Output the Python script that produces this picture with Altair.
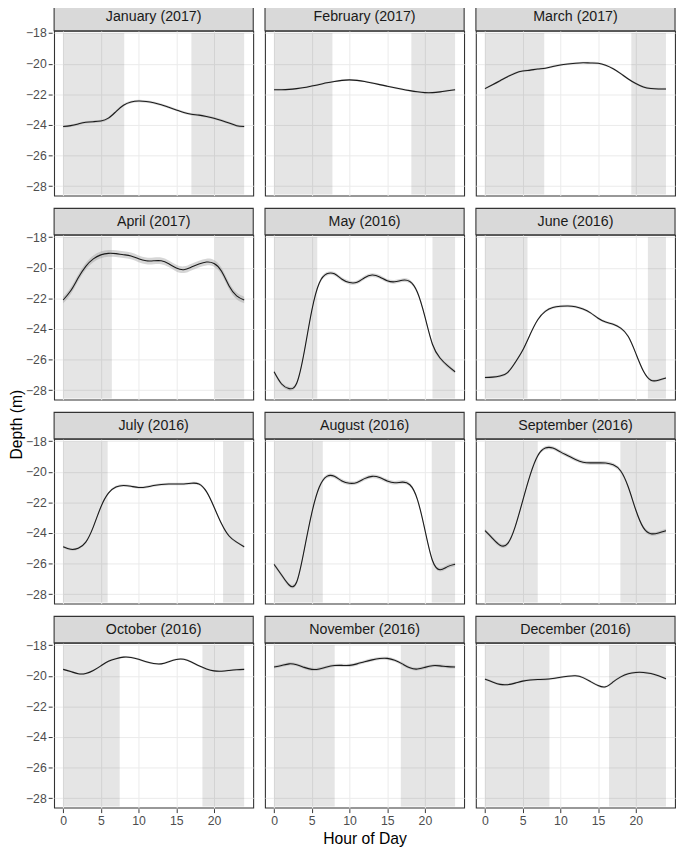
import altair as alt
import pandas as pd

MONTHS = ["January (2017)", "February (2017)", "March (2017)",
          "April (2017)", "May (2016)", "June (2016)",
          "July (2016)", "August (2016)", "September (2016)",
          "October (2016)", "November (2016)", "December (2016)"]

HOURS = list(range(25))

JAN = [-24.11, -24.05, -23.94, -23.83, -23.79, -23.75, -23.56, -23.13, -22.72, -22.51,
       -22.44, -22.47, -22.55, -22.68, -22.85, -23.02, -23.19, -23.30, -23.36, -23.45,
       -23.56, -23.71, -23.88, -24.05, -24.11]
FEB = [-21.70, -21.70, -21.68, -21.63, -21.56, -21.46, -21.36, -21.25, -21.16, -21.09,
       -21.06, -21.09, -21.16, -21.26, -21.37, -21.47, -21.57, -21.67, -21.76, -21.84,
       -21.89, -21.89, -21.84, -21.77, -21.70]
MAR = [-21.63, -21.38, -21.12, -20.85, -20.62, -20.48, -20.42, -20.35, -20.30, -20.18,
       -20.08, -20.02, -19.97, -19.94, -19.95, -19.97, -20.10, -20.33, -20.65, -21.00,
       -21.30, -21.52, -21.62, -21.65, -21.65]
APR = [-22.11, -21.51, -20.66, -19.91, -19.42, -19.16, -19.06, -19.08, -19.15, -19.23,
       -19.42, -19.55, -19.55, -19.55, -19.74, -20.02, -20.13, -19.96, -19.76, -19.63,
       -19.72, -20.23, -21.19, -21.84, -22.11]
MAY = [-26.80, -27.60, -27.90, -27.55, -25.50, -22.80, -21.00, -20.40, -20.40, -20.75,
       -20.97, -20.95, -20.65, -20.48, -20.60, -20.85, -20.92, -20.82, -20.90, -21.60,
       -23.20, -25.00, -25.90, -26.40, -26.80]
JUN = [-27.17, -27.15, -27.08, -26.85, -26.20, -25.40, -24.35, -23.40, -22.85, -22.60,
       -22.52, -22.50, -22.55, -22.70, -22.95, -23.30, -23.55, -23.70, -23.95, -24.50,
       -25.60, -26.75, -27.35, -27.35, -27.20]
JUL = [-24.90, -25.07, -25.00, -24.60, -23.60, -22.30, -21.40, -21.00, -20.90, -20.95,
       -21.03, -21.00, -20.90, -20.83, -20.80, -20.80, -20.80, -20.75, -20.80, -21.30,
       -22.30, -23.40, -24.20, -24.60, -24.90]
AUG = [-26.05, -26.75, -27.40, -27.20, -25.10, -22.70, -21.00, -20.30, -20.30, -20.60,
       -20.75, -20.70, -20.45, -20.30, -20.38, -20.60, -20.72, -20.68, -20.85, -21.80,
       -23.80, -25.80, -26.40, -26.20, -26.05]
SEP = [-23.85, -24.35, -24.80, -24.70, -23.60, -21.90, -20.20, -18.95, -18.45, -18.45,
       -18.70, -18.95, -19.20, -19.38, -19.42, -19.42, -19.43, -19.55, -19.95, -21.00,
       -22.50, -23.65, -24.05, -24.00, -23.85]
OCT = [-19.58, -19.72, -19.87, -19.85, -19.65, -19.35, -19.05, -18.88, -18.78, -18.80,
       -18.92, -19.08, -19.20, -19.22, -19.08, -18.93, -18.92, -19.10, -19.35, -19.55,
       -19.68, -19.70, -19.65, -19.60, -19.58]
NOV = [-19.43, -19.33, -19.22, -19.28, -19.45, -19.58, -19.55, -19.42, -19.33, -19.32,
       -19.32, -19.22, -19.08, -18.96, -18.87, -18.86, -18.98, -19.22, -19.48, -19.56,
       -19.45, -19.34, -19.35, -19.40, -19.43]
DEC = [-20.22, -20.40, -20.56, -20.58, -20.48, -20.35, -20.27, -20.24, -20.23, -20.18,
       -20.10, -20.03, -20.00, -20.12, -20.38, -20.64, -20.72, -20.40, -20.07, -19.86,
       -19.78, -19.78, -19.85, -20.00, -20.20]

SERIES = [JAN, FEB, MAR, APR, MAY, JUN, JUL, AUG, SEP, OCT, NOV, DEC]
SE = [0.08, 0.06, 0.07, 0.22, 0.12, 0.08, 0.08, 0.12, 0.12, 0.06, 0.10, 0.07]

SUNRISE = [8.1, 7.74, 7.86, 6.46, 5.73, 5.64, 5.9, 6.46, 7.0, 7.5, 8.04, 8.55]
SUNSET = [17.0, 18.2, 19.4, 20.1, 21.0, 21.6, 21.2, 20.9, 17.95, 18.46, 16.8, 16.45]
NIGHT_TOP = -18.0
NIGHT_BOTTOM = -28.55

W, H = 203, 168
STRIP = 27
FONT = "Liberation Sans"

rows = []
for m, vals, se, sr, ss in zip(MONTHS, SERIES, SE, SUNRISE, SUNSET):
    for h, v in zip(HOURS, vals):
        rows.append(dict(month=m, kind="curve", hour=h, hour2=None, depth=v, lo=v - se, hi=v + se))
    rows.append(dict(month=m, kind="night", hour=0, hour2=sr, depth=None, lo=NIGHT_BOTTOM, hi=NIGHT_TOP))
    rows.append(dict(month=m, kind="night", hour=ss, hour2=24, depth=None, lo=NIGHT_BOTTOM, hi=NIGHT_TOP))
    rows.append(dict(month=m, kind="label", hour=None, hour2=None, depth=None, lo=None, hi=None))
df = pd.DataFrame(rows)

xscale = alt.Scale(domain=[-1.2, 25.2], nice=False, zero=False)
yscale = alt.Scale(domain=[-28.62, -17.85], nice=False, zero=False)
xaxis = alt.Axis(values=[0, 5, 10, 15, 20], title=None)
yaxis = alt.Axis(values=[-28, -26, -24, -22, -20, -18], title=None)

base = alt.Chart()

night = base.transform_filter(alt.datum.kind == "night").mark_rect(
    color="black", opacity=0.1
).encode(
    x=alt.X("hour:Q", scale=xscale, axis=xaxis),
    x2="hour2:Q",
    y=alt.Y("lo:Q", scale=yscale, axis=yaxis),
    y2="hi:Q",
)

ribbon = base.transform_filter(alt.datum.kind == "curve").mark_area(
    color="#999999", opacity=0.4, interpolate="natural"
).encode(
    x=alt.X("hour:Q", scale=xscale, axis=xaxis),
    y=alt.Y("lo:Q", scale=yscale, axis=yaxis),
    y2="hi:Q",
)

line = base.transform_filter(alt.datum.kind == "curve").mark_line(
    color="#1A1A1A", strokeWidth=1.1, interpolate="natural"
).encode(
    x=alt.X("hour:Q", scale=xscale, axis=xaxis),
    y=alt.Y("depth:Q", scale=yscale, axis=yaxis),
)

strip = base.transform_filter(alt.datum.kind == "label").mark_rect(
    fill="#D9D9D9", stroke="#333333", strokeWidth=1.1
).encode(
    x=alt.value(0), x2=alt.value(W), y=alt.value(-STRIP), y2=alt.value(0)
)

label = base.transform_filter(alt.datum.kind == "label").mark_text(
    font=FONT, fontSize=14.5, color="#1A1A1A", baseline="middle", align="center"
).encode(
    x=alt.value(W / 2), y=alt.value(-STRIP / 2), text="month:N"
)

chart = alt.layer(night, ribbon, line, strip, label, data=df).properties(
    width=W, height=H
).facet(
    facet=alt.Facet(
        "month:N", sort=MONTHS,
        header=alt.Header(
            title="Hour of Day", titleOrient="bottom",
            labelExpr="''", labelFontSize=1, labelPadding=0,
            titleFont=FONT, titleFontSize=16, titleFontWeight="normal",
            titleColor="#000000", titlePadding=4,
        ),
    ),
    columns=3,
    spacing={"row": 9, "column": 8},
).properties(
    title=alt.TitleParams(
        "Depth (m)", orient="left", anchor="middle", font=FONT, fontSize=16,
        fontWeight="normal", color="#000000", offset=1,
    ),
    padding={"top": -15, "left": 0, "right": 0, "bottom": 0},
).configure(
    font=FONT
).configure_view(
    stroke="#333333", strokeWidth=1.1
).configure_axis(
    grid=True, gridColor="#EBEBEB", gridWidth=1, domain=False,
    tickColor="#333333", tickSize=4, labelColor="#4D4D4D", labelFontSize=12.5,
    labelFont=FONT, labelPadding=2
)

chart.save("out.html", embed_options={"renderer": "svg", "actions": False})
